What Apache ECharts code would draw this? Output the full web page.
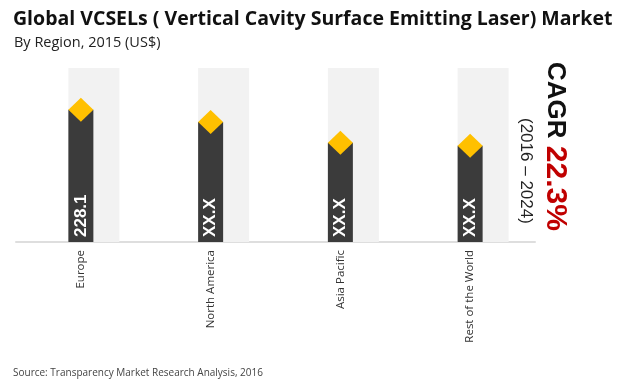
<!DOCTYPE html>
<html><head><meta charset="utf-8">
<script src="https://cdn.jsdelivr.net/npm/echarts@6/dist/echarts.min.js"></script>
<style>html,body{margin:0;padding:0;background:#fff}#c{width:620px;height:387px}</style>
</head><body><div id="c"></div>
<script>
const categories = ["Europe", "North America", "Asia Pacific", "Rest of the World"];
const values = [228.1, 207, 171, 166];
const barLabels = ["228.1", "XX.X", "XX.X", "XX.X"];
const bgValues = [300, 300, 300, 300];
const cagrText = "22.3%";
const periodText = "(2016 \u2013 2024)";

const chart = echarts.init(document.getElementById('c'), null, {renderer: 'canvas'});
const font = "'Open Sans', 'Lato', sans-serif";
chart.setOption({
  animation: false,
  backgroundColor: '#fff',
  title: [
    {text: 'Global VCSELs ( Vertical Cavity Surface Emitting Laser) Market', left: 8, top: 4,
     textStyle: {fontFamily: font, fontSize: 19.5, fontWeight: 'bold', color: '#111'}},
    {text: 'By Region, 2015 (US$)', left: 9, top: 30,
     textStyle: {fontFamily: font, fontSize: 14.5, fontWeight: 'normal', color: '#222'}},
    {text: 'Source: Transparency Market Research Analysis, 2016', left: 8, top: 363,
     textStyle: {fontFamily: font, fontSize: 10, fontWeight: 'normal', color: '#444'}}
  ],
  grid: {left: 16, right: 85, top: 68, bottom: 145, containLabel: false},
  xAxis: {
    type: 'category', data: categories,
    axisLine: {show: true, lineStyle: {color: '#dedede', width: 2}},
    axisTick: {show: false},
    axisLabel: {rotate: 90, margin: 8, fontFamily: font, fontSize: 11.5, color: '#333'}
  },
  yAxis: {type: 'value', min: 0, max: 300, show: false, splitLine: {show: false}},
  series: [
    {type: 'bar', data: bgValues, barWidth: 51, barGap: '-100%', silent: true,
     itemStyle: {color: '#f2f2f2'}, z: 1},
    {type: 'bar', data: values.map((v, i) => ({value: v, label: {formatter: barLabels[i]}})),
     barWidth: 25, barGap: '-100%', itemStyle: {color: '#3b3b3b'}, z: 2,
     label: {show: true, position: 'insideBottom', rotate: 90, align: 'left', verticalAlign: 'middle',
       distance: 5, color: '#fff', fontFamily: 'Arial, sans-serif', fontWeight: 'bold', fontSize: 17}},
    {type: 'scatter', data: values, symbol: 'diamond', symbolSize: [25, 24],
     itemStyle: {color: '#FFC000', opacity: 1}, z: 3}
  ],
  graphic: [
    {type: 'text', x: 555, y: 62, rotation: -Math.PI / 2,
     style: {text: '{a|CAGR }{b|' + cagrText + '}', textVerticalAlign: 'middle', textAlign: 'left',
       rich: {a: {fontFamily: 'Arial, sans-serif', fontWeight: 'bold', fontSize: 26, fill: '#111'},
              b: {fontFamily: 'Arial, sans-serif', fontWeight: 'bold', fontSize: 30, fill: '#C00000'}}}},
    {type: 'text', x: 526, y: 118, rotation: -Math.PI / 2,
     style: {text: periodText, textVerticalAlign: 'middle', textAlign: 'left',
       font: '17px Arial, sans-serif', fill: '#222'}}
  ]
});
</script></body></html>
